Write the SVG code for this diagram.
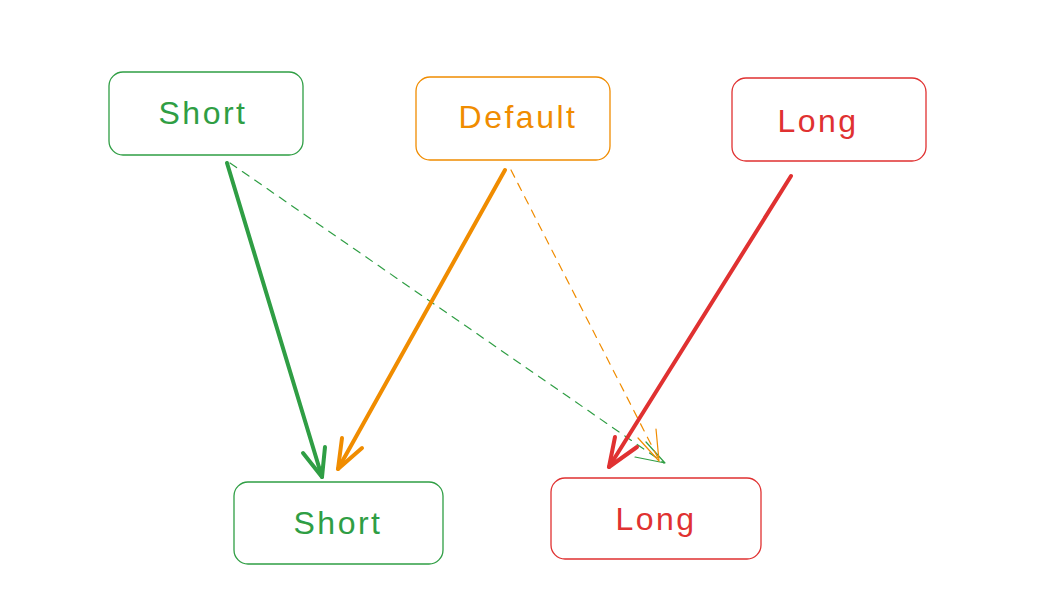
<svg xmlns="http://www.w3.org/2000/svg" width="1045" height="607" viewBox="0 0 1045 607">
<style>
.box{fill:#fff;stroke-width:1.3}
.lbl{font-family:"Liberation Sans",Arial,sans-serif;font-size:32px;letter-spacing:2.5px;text-anchor:middle;dominant-baseline:central}
.g{stroke:#2f9e44}.o{stroke:#f08c00}.r{stroke:#e03131}
.tg{fill:#2f9e44}.to{fill:#f08c00}.tr{fill:#e03131}
.main{fill:none;stroke-width:4;stroke-linecap:round;stroke-linejoin:round}
.thin{fill:none;stroke-width:1.2;stroke-linecap:round;stroke-linejoin:round}
.dash{stroke-dasharray:8 7}
</style>
<rect width="1045" height="607" fill="#fff"/>
<g id="connectors">
<path class="thin dash g" d="M230 163 L664 463"/>
<path class="thin g" d="M635 457 L665 463 L646 442"/>
<path class="thin dash o" d="M511 170 L659 460"/>
<path class="thin o" d="M638 438 L659 461 L656 429"/>
<path class="main g" d="M227 163 L322 477"/>
<path class="main g" d="M303 453 L322 477 L325 447"/>
<path class="main o" d="M505 170 L338 469"/>
<path class="main o" d="M362 448 L338 469 L342 438"/>
<path class="main r" d="M791 176 L609 467"/>
<path class="main r" d="M615 437 L609 467 L637 447"/>
</g>
<g id="node-short-top">
<rect class="box g" x="109" y="72" width="194" height="83" rx="14"/>
<text class="lbl tg" x="203" y="113">Short</text>
</g>
<g id="node-default">
<rect class="box o" x="416" y="77" width="194" height="83" rx="14"/>
<text class="lbl to" x="518" y="117">Default</text>
</g>
<g id="node-long-top">
<rect class="box r" x="732" y="78" width="194" height="83" rx="14"/>
<text class="lbl tr" x="818" y="121">Long</text>
</g>
<g id="node-short-bottom">
<rect class="box g" x="234" y="482" width="209" height="82" rx="14"/>
<text class="lbl tg" x="338" y="523">Short</text>
</g>
<g id="node-long-bottom">
<rect class="box r" x="551" y="478" width="210" height="81" rx="14"/>
<text class="lbl tr" x="656" y="519">Long</text>
</g>
</svg>
